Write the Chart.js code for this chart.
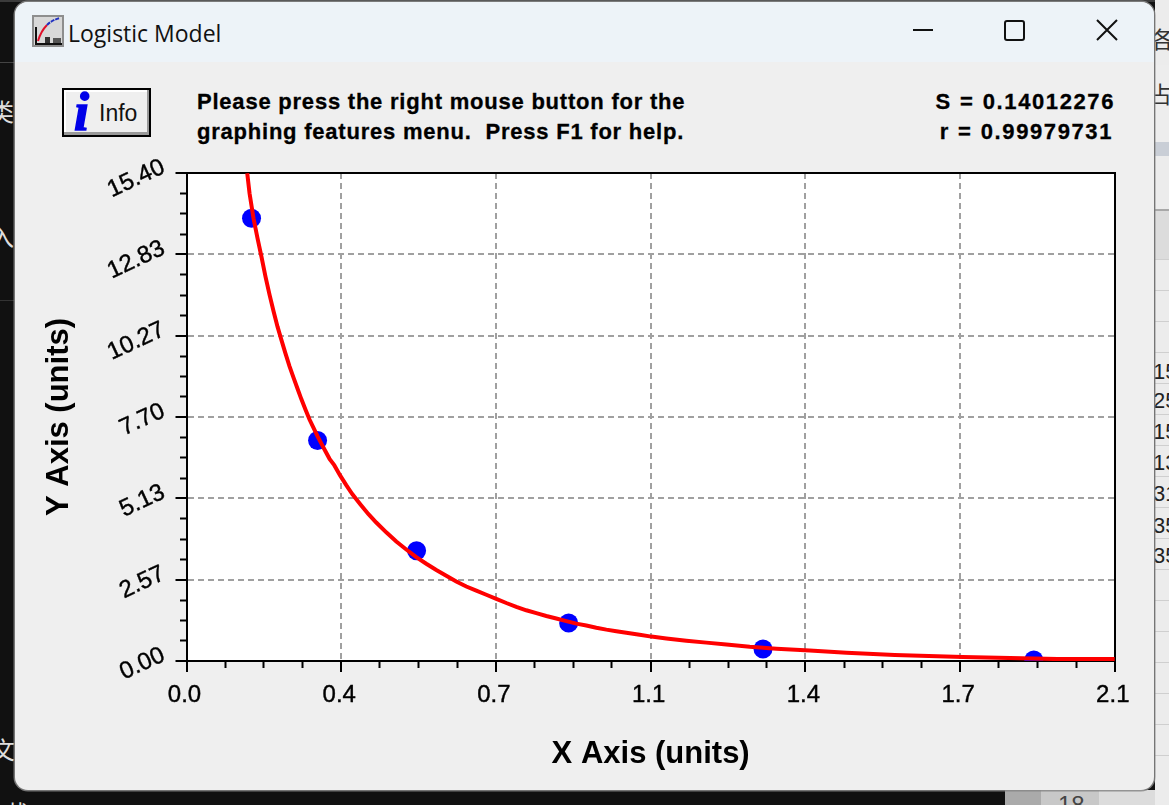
<!DOCTYPE html>
<html>
<head>
<meta charset="utf-8">
<title>Logistic Model</title>
<script src="https://cdn.jsdelivr.net/npm/chart.js@4"></script>
<style>
  html, body { margin: 0; padding: 0; width: 1169px; height: 805px; overflow: hidden; background: #111; }
  .abs { position: absolute; white-space: nowrap; }
  #desk { position: absolute; left: 1155px; top: 0; width: 14px; height: 805px; background: #ececec; overflow: hidden; }
  .row { position: absolute; left: 0; width: 14px; height: 1px; background: #cfcfcf; }
  .cell { position: absolute; left: -2px; font: 22px "Liberation Sans"; color: #222; }
  .cjk { position: absolute; font: 24px "Noto Sans CJK SC"; }
  #win { position: absolute; left: 15px; top: 2px; width: 1139px; height: 788px; background: #efefef; border-radius: 13px; overflow: hidden; box-shadow: 0 0 0 1.5px rgba(135,135,135,.85); }
  #bar { position: absolute; left: 0; top: 0; width: 100%; height: 60px; background: #edf3f8; }
  #chart { position: absolute; left: 0; top: 0; }
  .msg { font: bold 22px/30px "Liberation Sans"; color: #000; letter-spacing: 0.78px; -webkit-text-stroke: 0.3px #000; }
  .fit { letter-spacing: 1.6px; word-spacing: 0.5px; }
  #info { left: 62px; top: 88px; width: 85px; height: 45px; background: #efefef; border: 2px solid #000; box-shadow: inset -2px -3px 0 #999, inset 2px 2px 0 #fff; }
</style>
</head>
<body>
<div class="abs" style="left:0;top:0;width:1169px;height:2px;background:#3b3b3b"></div>
<div class="abs" style="left:0;top:62px;width:16px;height:1px;background:#444"></div>
<div class="abs" style="left:0;top:300px;width:16px;height:1px;background:#333"></div>
<span class="cjk" style="left:-10px;top:93px;color:#ddd">类</span>
<span class="cjk" style="left:-10px;top:218px;color:#ddd">入</span>
<span class="cjk" style="left:-9px;top:731px;color:#ddd">文</span>
<span class="cjk" style="left:5px;top:795px;color:#ddd">截</span>

<div class="abs" style="left:1005px;top:790px;width:164px;height:15px;background:#dcdcdc"></div>
<div class="abs" style="left:1005px;top:790px;width:36px;height:15px;background:#aaa"></div>
<div class="abs" style="left:1041px;top:790px;width:58px;height:15px;background:#c8c8c8"></div>
<span class="abs" style="left:1058px;top:791px;font:24px 'Liberation Sans';color:#444">18</span>

<div id="desk">
  <div class="row" style="top:65px;height:80px;background:#ededed"></div>
  <div class="row" style="top:142px;height:14px;background:#c9ced6"></div>
  <div class="row" style="top:209px;height:2px;background:#a8a8a8"></div>
  <div class="row" style="top:211px;height:48px;background:#dcdcdc"></div>
  <div class="row" style="top:259px"></div>
  <div class="row" style="top:290px"></div>
  <div class="row" style="top:321px"></div>
  <div class="row" style="top:352px"></div>
  <div class="row" style="top:383px"></div>
  <div class="row" style="top:414px"></div>
  <div class="row" style="top:445px"></div>
  <div class="row" style="top:476px"></div>
  <div class="row" style="top:507px"></div>
  <div class="row" style="top:538px"></div>
  <div class="row" style="top:569px"></div>
  <div class="row" style="top:600px"></div>
  <div class="row" style="top:631px"></div>
  <div class="row" style="top:662px"></div>
  <div class="row" style="top:693px"></div>
  <div class="row" style="top:724px"></div>
  <div class="row" style="top:755px"></div>
  <span class="cjk" style="left:-4px;top:21px;color:#333;font-size:23px">各</span>
  <span class="cjk" style="left:-6px;top:76px;color:#333;font-size:23px">占</span>
  <span class="cell" style="top:359px">15</span>
  <span class="cell" style="top:388px">25</span>
  <span class="cell" style="top:419px">15</span>
  <span class="cell" style="top:450px">13</span>
  <span class="cell" style="top:481px">31</span>
  <span class="cell" style="top:513px">35</span>
  <span class="cell" style="top:543px">35</span>
</div>

<div id="win"><div id="bar"></div></div>

<svg class="abs" style="left:32px;top:15px" width="32" height="32">
  <rect width="32" height="32" fill="#8e8e8e"/>
  <rect x="2" y="2" width="28" height="28" fill="#d8d8d8"/>
  <path d="M6 26 Q9 16 15 10" fill="none" stroke="#e0102a" stroke-width="2"/>
  <path d="M15 10 Q20 5 28 3" fill="none" stroke="#2030c0" stroke-width="2" stroke-dasharray="4 1"/>
  <path d="M4 12 V29 H30" fill="none" stroke="#101010" stroke-width="2"/>
  <rect x="13" y="22" width="5" height="6" fill="#333"/><rect x="21" y="23" width="8" height="5" fill="#555"/>
</svg>
<span class="abs" style="left:68px;top:17px;font:23px/32px 'Open Sans';color:#111">Logistic Model</span>
<div class="abs" style="left:913px;top:29px;width:20px;height:2px;background:#111"></div>
<div class="abs" style="left:1004px;top:20px;width:17px;height:17px;border:2px solid #111;border-radius:3px"></div>
<svg class="abs" style="left:1096px;top:19px" width="22" height="22"><path d="M1 1 L21 21 M21 1 L1 21" stroke="#111" stroke-width="2"/></svg>

<div id="info" class="abs"></div>
<span class="abs" style="left:74px;top:85px;font:italic bold 54px/54px 'Liberation Serif';color:#0000e8;-webkit-text-stroke:1.5px #0000e8">i</span>
<span class="abs" style="left:99px;top:98px;font:23px/30px 'Liberation Sans';color:#111">Info</span>

<div class="abs msg" style="left:197px;top:87px">Please press the right mouse button for the</div>
<div class="abs msg" style="left:197px;top:117px">graphing features menu.&nbsp; Press F1 for help.</div>
<div class="abs msg fit" style="right:54px;top:87px">S = 0.14012276</div>
<div class="abs msg fit" style="right:56px;top:117px">r = 0.99979731</div>

<canvas id="chart" width="1169" height="805"></canvas>

<script>
// tick positions and their printed labels
const xTickValues = [0, 0.35, 0.7, 1.05, 1.4, 1.75, 2.1];
const xTickLabels = ["0.0", "0.4", "0.7", "1.1", "1.4", "1.7", "2.1"];
const yTickValues = [0, 2.5667, 5.1333, 7.7, 10.2667, 12.8333, 15.4];
const yTickLabels = ["0.00", "2.57", "5.13", "7.70", "10.27", "12.83", "15.40"];
const xMinorTicks = [0.0875, 0.175, 0.2625, 0.4375, 0.525, 0.6125, 0.7875, 0.875, 0.9625, 1.1375, 1.225, 1.3125, 1.4875, 1.575, 1.6625, 1.8375, 1.925, 2.0125];
const yMinorTicks = [0.6417, 1.2833, 1.925, 3.2083, 3.85, 4.4917, 5.775, 6.4167, 7.0583, 8.3417, 8.9833, 9.625, 10.9083, 11.55, 12.1917, 13.475, 14.1167, 14.7583];

// measured standards
const pointX = [0.1471, 0.2965, 0.5205, 0.8645, 1.3042, 1.9168];
const pointY = [13.97, 6.96, 3.48, 1.20, 0.38, 0.03];

// fitted curve
const curveX = [0.1374, 0.1426, 0.1516, 0.1607, 0.1697, 0.1788, 0.1878, 0.1969, 0.2059, 0.2150, 0.2240, 0.2331, 0.2421, 0.2512, 0.2602, 0.2693, 0.2783, 0.2874, 0.2965, 0.3055, 0.3146, 0.3236, 0.3342, 0.3478, 0.3614, 0.3750, 0.3931, 0.4112, 0.4293, 0.4519, 0.4746, 0.4972, 0.5198, 0.5424, 0.5651, 0.5877, 0.6103, 0.6330, 0.6556, 0.6782, 0.7008, 0.7235, 0.7461, 0.7687, 0.7914, 0.8140, 0.8366, 0.8593, 0.8819, 0.9045, 0.9271, 0.9498, 0.9724, 0.9950, 1.0251, 1.0516, 1.0856, 1.1308, 1.1761, 1.2213, 1.2741, 1.3345, 1.4098, 1.4929, 1.6022, 1.7561, 1.9711, 2.1];
const curveY = [15.39, 14.76, 13.97, 13.34, 12.75, 12.12, 11.56, 11.04, 10.55, 10.12, 9.70, 9.30, 8.94, 8.59, 8.25, 7.93, 7.62, 7.36, 7.09, 6.85, 6.61, 6.38, 6.18, 5.85, 5.55, 5.27, 4.95, 4.64, 4.37, 4.06, 3.77, 3.52, 3.28, 3.07, 2.87, 2.69, 2.51, 2.35, 2.22, 2.09, 1.96, 1.83, 1.71, 1.60, 1.51, 1.42, 1.34, 1.26, 1.18, 1.12, 1.05, 0.99, 0.94, 0.89, 0.83, 0.77, 0.71, 0.64, 0.58, 0.52, 0.45, 0.39, 0.33, 0.26, 0.19, 0.13, 0.06, 0.06];

// white plot background and the black frame
const plotFrame = {
  id: "plotFrame",
  beforeDraw(chart) {
    const { ctx, chartArea: a } = chart;
    ctx.save();
    ctx.fillStyle = "#fff";
    ctx.fillRect(a.left, a.top, a.right - a.left, a.bottom - a.top);
    ctx.restore();
  },
  beforeDatasetsDraw(chart) {
    const { ctx, chartArea: a } = chart;
    const left = Math.round(a.left), right = Math.round(a.right);
    const top = Math.round(a.top), bottom = Math.round(a.bottom);
    ctx.save();
    ctx.strokeStyle = "#000";
    ctx.lineWidth = 2;
    ctx.strokeRect(left, top, right - left, bottom - top);
    ctx.restore();
  },
};

function useTicks(values) {
  return (scale) => { scale.ticks = values.map((v) => ({ value: v })); };
}

function gridColor(c) {
  return c.index === 0 || c.index === 6 ? "transparent" : "#a0a0a0";
}

new Chart(document.getElementById("chart"), {
  type: "scatter",
  data: {
    datasets: [
      {
        label: "Curve",
        data: curveX.map((x, i) => ({ x: x, y: curveY[i] })),
        showLine: true,
        pointRadius: 0,
        borderColor: "#ff0000",
        borderWidth: 4,
        tension: 0,
        clip: 0,
      },
      {
        label: "Points",
        data: pointX.map((x, i) => ({ x: x, y: pointY[i] })),
        pointRadius: 9.5,
        backgroundColor: "#0000ff",
        borderWidth: 0,
        clip: 0,
      },
    ],
  },
  plugins: [plotFrame],
  options: {
    responsive: false,
    animation: false,
    events: [],
    layout: { padding: { left: 0, right: 54.2, top: 173, bottom: 0 } },
    plugins: { legend: { display: false }, tooltip: { enabled: false } },
    scales: {
      x: {
        min: 0,
        max: 2.1,
        afterBuildTicks: useTicks(xTickValues),
        afterFit(s) { s.height = 144; },
        grid: { color: gridColor, lineWidth: 2, tickColor: "#000", tickWidth: 2, tickLength: 11 },
        border: { color: "#000", width: 2, dash: [6, 4] },
        ticks: {
          autoSkip: false,
          maxRotation: 0,
          labelOffset: -2,
          color: "#000",
          textStrokeColor: "#000",
          textStrokeWidth: 0.4,
          padding: 9,
          font: { family: "Liberation Sans", size: 24 },
          callback: (v, i) => xTickLabels[i],
        },
        title: {
          display: true,
          text: "X Axis (units)",
          color: "#000",
          font: { family: "Liberation Sans", size: 31, weight: "bold" },
          padding: { top: 0, bottom: 32 },
        },
      },
      y: {
        min: 0,
        max: 15.4,
        afterBuildTicks: useTicks(yTickValues),
        afterFit(s) { s.width = 186.5; },
        grid: { color: gridColor, lineWidth: 2, tickColor: "#000", tickWidth: 2, tickLength: 11 },
        border: { color: "#000", width: 2, dash: [6, 4] },
        ticks: {
          autoSkip: false,
          minRotation: 25,
          maxRotation: 25,
          labelOffset: -7,
          color: "#000",
          textStrokeColor: "#000",
          textStrokeWidth: 0.4,
          padding: 12,
          font: { family: "Liberation Sans", size: 24 },
          callback: (v, i) => yTickLabels[i],
        },
        title: {
          display: true,
          text: "Y Axis (units)",
          color: "#000",
          font: { family: "Liberation Sans", size: 31, weight: "bold" },
          padding: { top: 41, bottom: 0 },
        },
      },
      // short ticks between the labelled ones
      xMinor: {
        axis: "x",
        position: { y: 0 },
        min: 0,
        max: 2.1,
        afterBuildTicks: useTicks(xMinorTicks),
        grid: { drawOnChartArea: false, tickColor: "#000", tickWidth: 2, tickLength: 7 },
        border: { display: false },
        ticks: { display: false, autoSkip: false },
      },
      yMinor: {
        axis: "y",
        position: { x: 0 },
        min: 0,
        max: 15.4,
        afterBuildTicks: useTicks(yMinorTicks),
        grid: { drawOnChartArea: false, tickColor: "#000", tickWidth: 2, tickLength: 7 },
        border: { display: false },
        ticks: { display: false, autoSkip: false },
      },
    },
  },
});
</script>
</body>
</html>
